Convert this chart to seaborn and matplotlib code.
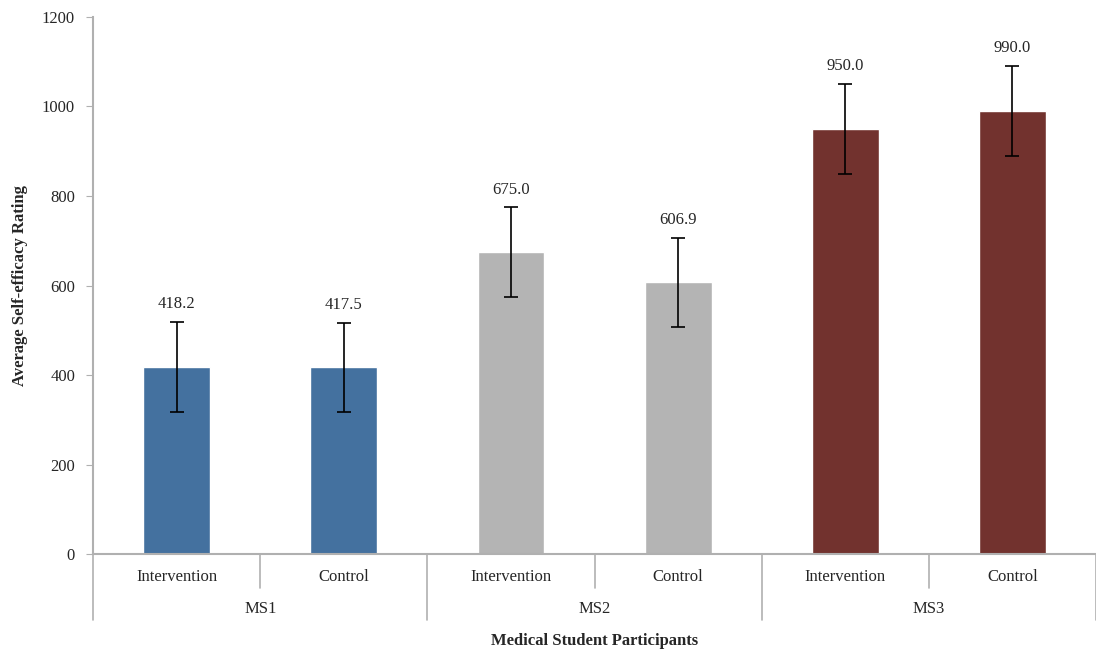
import matplotlib
matplotlib.use("Agg")
import matplotlib.pyplot as plt
import pandas as pd
import numpy as np
import seaborn as sns

sns.set_style("white")
plt.rcParams["font.family"] = ["Liberation Serif", "DejaVu Serif"]

# data
groups = ["MS1", "MS1", "MS2", "MS2", "MS3", "MS3"]
conditions = ["Intervention", "Control", "Intervention", "Control", "Intervention", "Control"]
ratings = [418.2, 417.5, 675.0, 606.9, 950.0, 990.0]
errors = [100, 100, 100, 100, 100, 100]
group_names = ["MS1", "MS2", "MS3"]
colors = ["#44719f", "#b4b4b4", "#72322e"]

df = pd.DataFrame({"slot": [f"{g}-{c}" for g, c in zip(groups, conditions)],
                   "group": groups, "rating": ratings})

fig = plt.figure(figsize=(10.96, 6.52), dpi=100)
ax = fig.add_axes([0.085, 0.150, 0.915, 0.824])

sns.barplot(data=df, x="slot", y="rating", hue="group", palette=colors,
            dodge=False, width=0.4, errorbar=None, legend=False,
            saturation=1, ax=ax)
ax.errorbar(np.arange(len(ratings)), ratings, yerr=errors, fmt="none",
            ecolor="black", elinewidth=1.2, capsize=5, capthick=1.2)

for i, (v, e) in enumerate(zip(ratings, errors)):
    ax.annotate(f"{v:.1f}", (i, v + e), xytext=(0, 7), textcoords="offset points",
                ha="center", va="bottom", fontsize=12)

ax.set_ylim(0, 1200)
ax.set_xlim(-0.5, len(ratings) - 0.5)
ax.set_yticks(range(0, 1201, 200))
ax.tick_params(axis="y", labelsize=12, length=5, color="#b0b0b0", left=True, pad=8)
ax.set_xticks([])
ax.set_xlabel("")
ax.set_ylabel("Average Self-efficacy Rating", fontsize=12, fontweight="bold", labelpad=10)
for s in ["top", "right"]:
    ax.spines[s].set_visible(False)
for s in ["left", "bottom"]:
    ax.spines[s].set_color("#b0b0b0")
    ax.spines[s].set_linewidth(1.5)

# two-level category axis
trans = ax.get_xaxis_transform()
n = len(ratings)
for k in range(n + 1):
    x = k - 0.5
    depth = -0.123 if k % 2 == 0 else -0.062
    ax.plot([x, x], [0, depth], transform=trans, color="#b0b0b0", lw=1.2, clip_on=False)
for i, c in enumerate(conditions):
    ax.text(i, -0.043, c, transform=trans, ha="center", va="center", fontsize=12)
for j, g in enumerate(group_names):
    ax.text(2 * j + 0.5, -0.102, g, transform=trans, ha="center", va="center", fontsize=12)
ax.text(0.5, -0.162, "Medical Student Participants", transform=ax.transAxes,
        ha="center", va="center", fontsize=12, fontweight="bold")

fig.savefig("out.png", dpi=100)
